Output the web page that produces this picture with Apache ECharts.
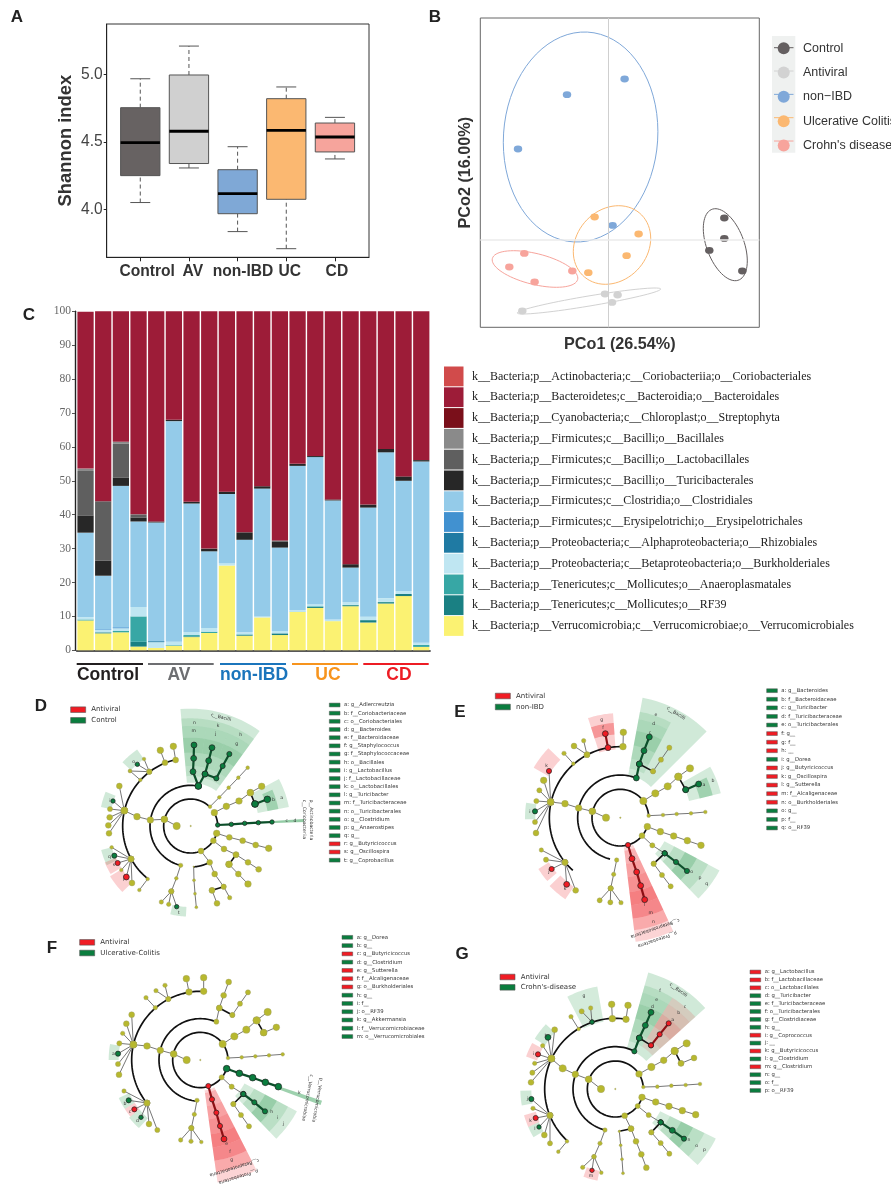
<!DOCTYPE html>
<html>
<head>
<meta charset="utf-8">
<title>Microbiome figure</title>
<script src="https://cdn.jsdelivr.net/npm/echarts@6/dist/echarts.min.js"></script>
<style>
html, body { margin: 0; padding: 0; background: #fff; }
#main { width: 891px; height: 1184px; }
</style>
</head>
<body>
<div id="main"></div>
<script>
// panel A - Shannon index
var boxNames = ['Control', 'AV', 'non-IBD', 'UC', 'CD'];
var boxLow = [4.05, 4.307, 3.834, 3.707, 4.374];
var boxQ1 = [4.25, 4.34, 3.967, 4.074, 4.426];
var boxMedian = [4.495, 4.58, 4.116, 4.587, 4.537];
var boxQ3 = [4.755, 4.998, 4.294, 4.822, 4.641];
var boxHigh = [4.97, 5.213, 4.465, 4.909, 4.683];
var boxColors = ['#676262', '#d0d0d0', '#7fa8d6', '#fbb871', '#f6a49c'];
var shannonTicks = [4, 4.5, 5];

// panel B - PCoA
var pcoaNames = ['Control', 'Antiviral', 'non\u2212IBD', 'Ulcerative Colitis', "Crohn's disease"];
var pcoaControl = [[0.116, 0.0217], [0.116, 0.0013], [0.101, -0.0107], [0.134, -0.0313]];
var pcoaAntiviral = [[-0.0033, -0.0543], [0.0093, -0.0553], [0.0037, -0.0627], [-0.086, -0.0713]];
var pcoaNonIbd = [[0.0163, 0.1607], [-0.0413, 0.145], [-0.0903, 0.0907], [0.0043, 0.0143]];
var pcoaUc = [[-0.0137, 0.0227], [0.0303, 0.0057], [0.0183, -0.016], [-0.02, -0.033]];
var pcoaCd = [[-0.084, -0.0137], [-0.099, -0.0273], [-0.0737, -0.0423], [-0.036, -0.0313]];
// centre x, centre y, half width, half height, correlation
var ellControl = [0.117, -0.005, 0.022, 0.036, -0.45];
var ellAntiviral = [-0.0193, -0.0613, 0.0717, 0.013, 0.92];
var ellNonIbd = [-0.0277, 0.1027, 0.0773, 0.105, 0.05];
var ellUc = [0.0037, -0.0053, 0.0387, 0.0393, 0.17];
var ellCd = [-0.0733, -0.0293, 0.0428, 0.0183, -0.5];

// panel C - stacked composition, bottom to top
var sampleIds = ['1', '2', '3', '4', '5', '6', '7', '8', '9', '10', '11', '12', '13', '14', '15', '16', '17', '18', '19', '20'];
var taxVerruco = [8.8, 5, 5.3, 1.1, 0.7, 1.3, 3.9, 5.1, 25, 4.3, 9.7, 4.5, 11.3, 12.5, 8.6, 13, 8.2, 13.8, 16, 1];
var taxRf39 = [0, 0.3, 0, 1.4, 0, 0, 0.2, 0, 0, 0.2, 0, 0.5, 0, 0.3, 0, 0.3, 0.7, 0.4, 0.6, 0];
var taxAnaero = [0.3, 0, 0.4, 7.5, 0, 0.2, 0.4, 0.4, 0, 0.2, 0, 0, 0.1, 0.2, 0, 0.1, 0, 0.1, 0, 0.6];
var taxBurk = [0.7, 0.7, 0.8, 2.8, 1.7, 1, 0.9, 1.1, 0.7, 0.6, 0.3, 0.7, 0.4, 0.6, 0.5, 0.8, 1, 1.1, 0.9, 0.6];
var taxRhizo = [0, 0, 0, 0, 0.3, 0, 0, 0, 0, 0, 0, 0, 0, 0, 0, 0, 0, 0, 0, 0];
var taxErysip = [0, 0.2, 0.3, 0, 0, 0, 0, 0, 0, 0, 0, 0, 0, 0, 0, 0, 0, 0, 0, 0];
var taxClost = [24.9, 15.8, 41.7, 25.2, 35, 65.1, 37.9, 22.6, 20.4, 27.3, 37.7, 24.6, 42.6, 43.4, 35.1, 10.2, 32.2, 43, 32.5, 53.5];
var taxTurici = [5.1, 4.5, 2.5, 1.2, 0.3, 0.4, 0.5, 0.8, 0.7, 2.2, 0.7, 1.7, 0.6, 0.3, 0.3, 1, 0.9, 1, 1.3, 0.4];
var taxLacto = [13.1, 17.5, 9.9, 0.9, 0, 0, 0, 0, 0, 0, 0, 0.4, 0, 0, 0, 0, 0, 0, 0, 0];
var taxBacill = [0.7, 0, 0.6, 0, 0, 0, 0, 0, 0, 0, 0, 0, 0, 0, 0, 0, 0, 0, 0, 0];
var taxStrepto = [0, 0, 0, 0, 0, 0, 0, 0, 0, 0, 0, 0, 0, 0, 0, 0, 0, 0, 0, 0];
var taxBactero = [46.3, 56, 38.5, 59.9, 62, 32, 56.2, 70, 53.2, 65.2, 51.6, 67.6, 45, 42.7, 55.5, 74.6, 57, 40.6, 48.7, 43.9];
var taxCorio = [0, 0, 0, 0, 0, 0, 0, 0, 0, 0, 0, 0, 0, 0, 0, 0, 0, 0, 0, 0];
var yTicksC = 10;
var groupNames = ['Control', 'AV', 'non-IBD', 'UC', 'CD'];
var groupColors = ['#231f20', '#6d6e71', '#1b75bc', '#f7941d', '#ed1c24'];
var taxNames = [
    'k__Bacteria;p__Actinobacteria;c__Coriobacteriia;o__Coriobacteriales',
    'k__Bacteria;p__Bacteroidetes;c__Bacteroidia;o__Bacteroidales',
    'k__Bacteria;p__Cyanobacteria;c__Chloroplast;o__Streptophyta',
    'k__Bacteria;p__Firmicutes;c__Bacilli;o__Bacillales',
    'k__Bacteria;p__Firmicutes;c__Bacilli;o__Lactobacillales',
    'k__Bacteria;p__Firmicutes;c__Bacilli;o__Turicibacterales',
    'k__Bacteria;p__Firmicutes;c__Clostridia;o__Clostridiales',
    'k__Bacteria;p__Firmicutes;c__Erysipelotrichi;o__Erysipelotrichales',
    'k__Bacteria;p__Proteobacteria;c__Alphaproteobacteria;o__Rhizobiales',
    'k__Bacteria;p__Proteobacteria;c__Betaproteobacteria;o__Burkholderiales',
    'k__Bacteria;p__Tenericutes;c__Mollicutes;o__Anaeroplasmatales',
    'k__Bacteria;p__Tenericutes;c__Mollicutes;o__RF39',
    'k__Bacteria;p__Verrucomicrobia;c__Verrucomicrobiae;o__Verrucomicrobiales'
];
var taxColors = ['#d14b4b', '#9d1c38', '#7a0f1a', '#8a8a8a', '#5f5f5f', '#272727', '#94cbe9', '#4191d0', '#1f7aa3', '#bfe6f2', '#37a7a5', '#1a8083', '#fbf272'];

// panels D-G - cladogram keys
var dKeys = ['a: g__Adlercreutzia', 'b: f__Coriobacteriaceae', 'c: o__Coriobacteriales', 'd: g__Bacteroides', 'e: f__Bacteroidaceae', 'f: g__Staphylococcus', 'g: f__Staphylococcaceae', 'h: o__Bacillales', 'i: g__Lactobacillus', 'j: f__Lactobacillaceae', 'k: o__Lactobacillales', 'l: g__Turicibacter', 'm: f__Turicibacteraceae', 'n: o__Turicibacterales', 'o: g__Clostridium', 'p: g__Anaerostipes', 'q: g__', 'r: g__Butyricicoccus', 's: g__Oscillospira', 't: g__Coprobacillus'];
var dKeyCls = 'gggggggggggggggggrrg';
var eKeys = ['a: g__Bacteroides', 'b: f__Bacteroidaceae', 'c: g__Turicibacter', 'd: f__Turicibacteraceae', 'e: o__Turicibacterales', 'f: g__', 'g: f__', 'h: __', 'i: g__Dorea', 'j: g__Butyricicoccus', 'k: g__Oscillospira', 'l: g__Sutterella', 'm: f__Alcaligenaceae', 'n: o__Burkholderiales', 'o: g__', 'p: f__', 'q: o__RF39'];
var eKeyCls = 'gggggrrrgrrrrrggg';
var fKeys = ['a: g__Dorea', 'b: g__', 'c: g__Butyricicoccus', 'd: g__Clostridium', 'e: g__Sutterella', 'f: f__Alcaligenaceae', 'g: o__Burkholderiales', 'h: g__', 'i: f__', 'j: o__RF39', 'k: g__Akkermansia', 'l: f__Verrucomicrobiaceae', 'm: o__Verrucomicrobiales'];
var fKeyCls = 'ggrgrrrgggggg';
var gKeys = ['a: g__Lactobacillus', 'b: f__Lactobacillaceae', 'c: o__Lactobacillales', 'd: g__Turicibacter', 'e: f__Turicibacteraceae', 'f: o__Turicibacterales', 'g: f__Clostridiaceae', 'h: g__', 'i: g__Coprococcus', 'j: __', 'k: g__Butyricicoccus', 'l: g__Clostridium', 'm: g__Clostridium', 'n: g__', 'o: f__', 'p: o__RF39'];
var gKeyCls = 'rrrggggg' + 'rgrgrggg';

// cladogram trees in crop units (3 units = 1 pixel)
// each chain: edge class, then nodes [x, y, radius, node class]
var dChains = [
    ['g', [505, 288, 9, 'g'], [489, 245, 8, 'g'], [491, 205, 8, 'g'], [492, 165, 8, 'g']],
    ['g', [505, 288, 9, 'g'], [525, 252, 8, 'g'], [536, 212, 8, 'g'], [546, 173, 8, 'g']],
    ['g', [525, 252, 8, 'g'], [559, 265, 7, 'g'], [578, 228, 7, 'g'], [598, 192, 7, 'g']],
    ['o', [540, 350, 5, 'o'], [568, 322, 5, 'o'], [596, 293, 5, 'o'], [625, 263, 5, 'o'], [653, 233, 5, 'o']],
    ['o', [553, 368, 9, 'o'], [589, 349, 9, 'o'], [627, 333, 9, 'o'], [661, 308, 9, 'o'], [695, 289, 9, 'o']],
    ['k', [661, 308, 9, 'o'], [675, 342, 9, 'g']],
    ['g', [675, 342, 9, 'g'], [712, 328, 9, 'g']],
    ['g', [563, 405, 6, 'g'], [604, 403, 6, 'g'], [644, 400, 6, 'g'], [685, 398, 6, 'g'], [726, 396, 6, 'g']],
    ['o', [560, 430, 9, 'o'], [598, 442, 8, 'o'], [638, 452, 8, 'o'], [677, 465, 8, 'o'], [716, 475, 9, 'o']],
    ['o', [550, 452, 8, 'o'], [582, 477, 8, 'o'], [618, 494, 8, 'o'], [654, 517, 8, 'o'], [686, 538, 8, 'o']],
    ['o', [513, 483, 8, 'o'], [539, 517, 8, 'o'], [554, 552, 8, 'o'], [581, 590, 7, 'o'], [599, 623, 6, 'o']],
    ['k', [581, 590, 7, 'o'], [546, 601, 8, 'o']],
    ['o', [546, 601, 8, 'o'], [561, 640, 8, 'o']],
    ['k', [618, 494, 8, 'o'], [597, 523, 9, 'o']],
    ['o', [597, 523, 9, 'o'], [625, 552, 8, 'o'], [654, 582, 9, 'o']],
    ['o', [452, 526, 6, 'o'], [439, 565, 5, 'o'], [424, 604, 7, 'o'], [394, 636, 6, 'o']],
    ['o', [424, 604, 7, 'o'], [416, 643, 6, 'o']],
    ['o', [424, 604, 7, 'o'], [440, 650, 6, 'g']],
    ['o', [491, 530, 2, 'o'], [492, 571, 4, 'o'], [495, 611, 4, 'o'], [499, 652, 4, 'o']],
    ['o', [303, 507, 8, 'o'], [245, 472, 5, 'o']],
    ['o', [303, 507, 8, 'o'], [253, 497, 7, 'g']],
    ['o', [303, 507, 8, 'o'], [263, 519, 7, 'r']],
    ['o', [303, 507, 8, 'o'], [274, 540, 5, 'o']],
    ['o', [303, 507, 8, 'o'], [289, 561, 8, 'r']],
    ['o', [303, 507, 8, 'o'], [306, 579, 8, 'o']],
    ['o', [353, 567, 5, 'o'], [328, 600, 5, 'o']],
    ['o', [283, 362, 9, 'o'], [268, 288, 8, 'o']],
    ['o', [283, 362, 9, 'o'], [249, 333, 6, 'g']],
    ['o', [283, 362, 9, 'o'], [240, 357, 7, 'o']],
    ['o', [283, 362, 9, 'o'], [239, 382, 8, 'o']],
    ['o', [283, 362, 9, 'o'], [235, 406, 8, 'o']],
    ['o', [283, 362, 9, 'o'], [237, 430, 8, 'o']],
    ['o', [358, 245, 7, 'o'], [342, 207, 5, 'o']],
    ['o', [358, 245, 7, 'o'], [322, 223, 6, 'g']],
    ['o', [358, 245, 7, 'o'], [300, 243, 5, 'o']],
    ['o', [331, 270, 5, 'o'], [300, 243, 5, 'o']],
    ['o', [405, 218, 8, 'o'], [391, 181, 9, 'o']],
    ['o', [437, 210, 8, 'o'], [430, 169, 9, 'o']],
    ['o', [403, 388, 9, 'o'], [361, 390, 9, 'o'], [321, 380, 9, 'o'], [283, 362, 9, 'o']],
    ['o', [403, 388, 9, 'o'], [440, 408, 10, 'o']]
];
var eChains = [
    ['g', [559, 294, 8, 'g'], [568, 252, 8, 'g'], [582, 212, 8, 'g'], [598, 171, 8, 'g']],
    ['k', [568, 252, 8, 'g'], [609, 274, 7, 'o']],
    ['o', [609, 274, 7, 'o'], [633, 239, 7, 'o'], [658, 203, 7, 'o']],
    ['o', [580, 363, 10, 'o'], [616, 340, 10, 'o'], [653, 319, 10, 'o'], [685, 290, 10, 'o'], [720, 265, 10, 'o']],
    ['k', [685, 290, 10, 'o'], [707, 329, 8, 'g']],
    ['g', [707, 329, 8, 'g'], [746, 312, 8, 'g']],
    ['o', [596, 407, 5, 'o'], [639, 405, 5, 'o'], [680, 402, 5, 'o'], [723, 400, 5, 'o'], [766, 396, 5, 'o']],
    ['o', [592, 440, 9, 'o'], [631, 455, 9, 'o'], [671, 468, 9, 'o'], [712, 482, 9, 'o'], [753, 496, 9, 'o']],
    ['o', [576, 467, 8, 'o'], [607, 496, 7, 'o'], [644, 520, 7, 'g']],
    ['g', [644, 520, 7, 'g'], [678, 546, 7, 'g'], [711, 573, 7, 'g']],
    ['k', [644, 520, 7, 'g'], [611, 551, 7, 'o']],
    ['o', [611, 551, 7, 'o'], [636, 585, 7, 'o'], [662, 619, 7, 'o']],
    ['r', [534, 495, 7, 'r'], [546, 536, 8, 'r'], [560, 576, 8, 'r'], [572, 617, 8, 'r'], [584, 659, 8, 'r']],
    ['o', [500, 540, 6, 'o'], [491, 583, 6, 'o'], [482, 625, 7, 'o'], [449, 661, 7, 'o']],
    ['o', [482, 625, 7, 'o'], [481, 667, 7, 'o']],
    ['o', [482, 625, 7, 'o'], [513, 668, 6, 'o']],
    ['o', [345, 547, 8, 'o'], [274, 510, 6, 'o']],
    ['o', [345, 547, 8, 'o'], [288, 539, 7, 'o']],
    ['o', [345, 547, 8, 'o'], [305, 567, 7, 'r']],
    ['o', [345, 547, 8, 'o'], [350, 613, 8, 'r']],
    ['o', [345, 547, 8, 'o'], [377, 631, 8, 'o']],
    ['o', [302, 366, 9, 'o'], [281, 301, 9, 'o']],
    ['o', [302, 366, 9, 'o'], [297, 273, 7, 'r']],
    ['o', [302, 366, 9, 'o'], [268, 331, 7, 'o']],
    ['o', [302, 366, 9, 'o'], [259, 363, 7, 'o']],
    ['o', [302, 366, 9, 'o'], [255, 394, 7, 'g']],
    ['o', [302, 366, 9, 'o'], [255, 426, 7, 'o']],
    ['o', [302, 366, 9, 'o'], [258, 459, 8, 'o']],
    ['o', [370, 251, 5, 'o'], [342, 220, 6, 'o']],
    ['o', [411, 224, 8, 'o'], [372, 198, 8, 'o']],
    ['o', [411, 224, 8, 'o'], [401, 182, 6, 'o']],
    ['r', [474, 203, 8, 'r'], [466, 161, 8, 'r']],
    ['o', [519, 200, 9, 'o'], [520, 157, 9, 'o']],
    ['o', [427, 394, 9, 'o'], [386, 384, 9, 'o'], [345, 371, 9, 'o'], [302, 366, 9, 'o']],
    ['o', [427, 394, 9, 'o'], [468, 413, 10, 'o']]
];
var fChains = [
    ['o', [559, 275, 7, 'o'], [568, 234, 8, 'o'], [581, 196, 8, 'o'], [596, 156, 8, 'o']],
    ['k', [568, 234, 8, 'o'], [607, 255, 7, 'o']],
    ['o', [607, 255, 7, 'o'], [630, 221, 7, 'o'], [654, 187, 7, 'o']],
    ['o', [578, 342, 10, 'o'], [613, 319, 10, 'o'], [649, 299, 10, 'o'], [680, 271, 10, 'o'], [713, 246, 10, 'o']],
    ['k', [680, 271, 10, 'o'], [701, 308, 9, 'o']],
    ['o', [701, 308, 9, 'o'], [739, 292, 9, 'o']],
    ['o', [594, 384, 5, 'o'], [635, 382, 5, 'o'], [676, 379, 5, 'o'], [717, 376, 5, 'o'], [758, 373, 5, 'o']],
    ['g', [590, 416, 9, 'g'], [628, 430, 9, 'g'], [668, 443, 9, 'g'], [706, 457, 9, 'g'], [745, 470, 9, 'g']],
    ['o', [575, 442, 7, 'o'], [605, 470, 7, 'o'], [640, 492, 7, 'g']],
    ['g', [640, 492, 7, 'g'], [673, 517, 7, 'g'], [705, 544, 7, 'g']],
    ['k', [640, 492, 7, 'g'], [610, 522, 7, 'o']],
    ['o', [610, 522, 7, 'o'], [633, 555, 7, 'o'], [657, 589, 7, 'o']],
    ['r', [535, 468, 7, 'r'], [546, 508, 7, 'r'], [559, 548, 7, 'r'], [570, 588, 7, 'r'], [582, 627, 8, 'r']],
    ['o', [501, 511, 6, 'o'], [493, 553, 6, 'o'], [484, 594, 7, 'o'], [452, 630, 6, 'o']],
    ['o', [484, 594, 7, 'o'], [483, 634, 6, 'o']],
    ['o', [484, 594, 7, 'o'], [514, 636, 5, 'o']],
    ['o', [351, 519, 8, 'o'], [282, 483, 6, 'o']],
    ['o', [351, 519, 8, 'o'], [296, 511, 7, 'g']],
    ['o', [351, 519, 8, 'o'], [313, 538, 7, 'r']],
    ['o', [351, 519, 8, 'o'], [333, 562, 6, 'g']],
    ['o', [351, 519, 8, 'o'], [357, 582, 8, 'o']],
    ['o', [351, 519, 8, 'o'], [382, 600, 7, 'o']],
    ['o', [310, 344, 9, 'o'], [289, 281, 8, 'o']],
    ['o', [310, 344, 9, 'o'], [305, 254, 8, 'o']],
    ['o', [310, 344, 9, 'o'], [278, 310, 6, 'o']],
    ['o', [310, 344, 9, 'o'], [268, 340, 7, 'o']],
    ['o', [310, 344, 9, 'o'], [264, 371, 7, 'g']],
    ['o', [310, 344, 9, 'o'], [264, 402, 7, 'o']],
    ['o', [310, 344, 9, 'o'], [267, 434, 8, 'o']],
    ['o', [376, 233, 6, 'o'], [348, 203, 6, 'o']],
    ['o', [415, 207, 7, 'o'], [378, 182, 6, 'o']],
    ['o', [415, 207, 7, 'o'], [405, 166, 6, 'o']],
    ['o', [477, 186, 9, 'o'], [469, 146, 9, 'o']],
    ['o', [521, 184, 9, 'o'], [521, 143, 9, 'o']],
    ['o', [431, 372, 9, 'o'], [391, 361, 9, 'o'], [351, 348, 9, 'o'], [310, 344, 9, 'o']],
    ['o', [431, 372, 9, 'o'], [470, 390, 10, 'o']]
];
var gChains = [
    ['g', [553, 334, 7, 'g'], [568, 294, 8, 'g'], [586, 256, 8, 'g'], [603, 217, 8, 'g']],
    ['k', [568, 294, 8, 'g'], [603, 316, 7, 'r']],
    ['r', [603, 316, 7, 'r'], [629, 283, 7, 'r'], [656, 250, 7, 'r']],
    ['o', [567, 402, 9, 'o'], [604, 381, 10, 'o'], [641, 361, 9, 'o'], [674, 333, 10, 'o'], [710, 310, 10, 'o']],
    ['k', [674, 333, 10, 'o'], [693, 370, 8, 'o']],
    ['o', [693, 370, 8, 'o'], [732, 354, 8, 'o']],
    ['o', [580, 441, 5, 'o'], [622, 440, 5, 'o'], [664, 437, 5, 'o'], [707, 435, 5, 'o'], [750, 432, 5, 'o']],
    ['o', [576, 472, 9, 'o'], [617, 486, 9, 'o'], [657, 499, 9, 'o'], [697, 512, 9, 'o'], [737, 524, 9, 'o']],
    ['o', [563, 498, 7, 'o'], [596, 525, 7, 'o'], [632, 547, 7, 'g']],
    ['g', [632, 547, 7, 'g'], [667, 571, 8, 'g'], [702, 596, 7, 'g']],
    ['k', [632, 547, 7, 'g'], [604, 577, 7, 'o']],
    ['o', [604, 577, 7, 'o'], [632, 609, 7, 'o'], [658, 641, 7, 'o']],
    ['o', [524, 527, 8, 'o'], [543, 566, 8, 'o'], [558, 604, 8, 'o'], [574, 643, 8, 'o'], [589, 683, 8, 'o']],
    ['o', [465, 570, 6, 'o'], [450, 610, 6, 'o'], [432, 650, 6, 'o'], [398, 682, 6, 'o']],
    ['o', [432, 650, 6, 'o'], [426, 691, 6, 'r']],
    ['o', [432, 650, 6, 'o'], [454, 698, 5, 'o']],
    ['k', [543, 566, 8, 'o'], [508, 574, 3, 'o']],
    ['o', [508, 574, 3, 'o'], [512, 616, 4, 'o'], [516, 658, 4, 'o'], [519, 700, 4, 'o']],
    ['o', [300, 526, 8, 'o'], [249, 505, 6, 'o']],
    ['o', [300, 526, 8, 'o'], [244, 477, 7, 'g']],
    ['o', [300, 526, 8, 'o'], [257, 534, 7, 'r']],
    ['o', [300, 526, 8, 'o'], [267, 561, 6, 'g']],
    ['o', [300, 526, 8, 'o'], [283, 585, 8, 'o']],
    ['o', [300, 526, 8, 'o'], [300, 610, 7, 'o']],
    ['o', [351, 604, 5, 'o'], [325, 635, 5, 'o']],
    ['o', [304, 356, 9, 'o'], [314, 269, 8, 'o']],
    ['o', [304, 356, 9, 'o'], [294, 292, 8, 'g']],
    ['o', [304, 356, 9, 'o'], [278, 317, 6, 'o']],
    ['o', [304, 356, 9, 'o'], [264, 343, 7, 'r']],
    ['o', [304, 356, 9, 'o'], [254, 370, 6, 'o']],
    ['o', [304, 356, 9, 'o'], [247, 398, 7, 'o']],
    ['o', [304, 356, 9, 'o'], [243, 427, 8, 'o']],
    ['o', [386, 267, 5, 'o'], [363, 230, 6, 'o']],
    ['o', [426, 246, 6, 'g'], [395, 214, 7, 'o']],
    ['o', [426, 246, 6, 'g'], [422, 204, 6, 'o']],
    ['o', [487, 236, 9, 'o'], [485, 193, 9, 'o']],
    ['o', [528, 238, 9, 'o'], [534, 196, 9, 'o']],
    ['o', [416, 418, 9, 'o'], [376, 403, 9, 'o'], [338, 385, 10, 'o'], [304, 356, 9, 'o']],
    ['o', [416, 418, 9, 'o'], [453, 447, 10, 'o']]
];

// rings: radius, start angle, end angle
var dArcs = [[81, -67, -16], [81, 2, 29], [81, 45, 292], [122, 79, 256], [123, -86, -62], [204, 102, 231]];
var eArcs = [[85, -74, -18], [85, 5, 36], [85, 36, 286], [128, 68, 256], [213, 88, 228]];
var fArcs = [[83, -73, -18], [83, 4, 287], [124, 67, 265], [206, 87, 219]];
var gArcs = [[84, -71, -17], [84, 4, 289], [127, 63, 256], [212, 81, 227]];

// sectors: inner radius, outer radius, start angle, end angle, class, opacity
var bandsBig = [[150, 180, 0.12], [180, 220, 0.2], [220, 265, 0.32], [265, 300, 0.22], [300, 323, 0.15]];
var bandsRed = [[100, 140, 0.2], [140, 180, 0.3], [180, 225, 0.4], [225, 265, 0.5], [265, 305, 0.45], [305, 340, 0.25]];
var bandsLow = [[183, 220, 0.15], [220, 260, 0.35], [260, 298, 0.15]];
var dWedges = [
    [130, 352, 54, 95, 'g', 0.22], [205, 300, 11, 28, 'g', 0.2], [235, 268, 11, 24, 'g', 0.3],
    [165, 340, 2, 3.5, 'g', 0.5], [245, 280, 125, 137, 'g', 0.22], [243, 275, 158, 168, 'g', 0.22],
    [245, 278, -165, -155, 'g', 0.22], [243, 280, -157, -149, 'r', 0.22], [243, 285, -148, -136, 'r', 0.22],
    [243, 272, -103, -93, 'g', 0.22]
];
var dClades = [[81, 95, 'g', bandsBig], [68, 81, 'g', bandsBig], [54, 68, 'g', bandsBig]];
var eWedges = [
    [130, 366, 45, 79.5, 'g', 0.22], [150, 337, -46, -28, 'g', 0.2], [90, 375, -83, -65, 'r', 0.2],
    [205, 314, 94, 108, 'r', 0.22], [250, 285, 94, 108, 'r', 0.35], [212, 310, 13.6, 29.6, 'g', 0.2],
    [245, 285, 13.6, 25, 'g', 0.3], [250, 300, 136, 150, 'r', 0.22], [255, 286, 171, 181, 'g', 0.22],
    [253, 290, -148, -139, 'r', 0.22], [250, 295, -136, -124, 'r', 0.22]
];
var eClades = [[62, 79.5, 'g', bandsBig], [-46, -28, 'g', bandsLow], [-83, -65, 'r', bandsRed]];
var fWedges = [
    [92, 371, -82, -63, 'r', 0.2], [150, 328, -46, -28, 'g', 0.2], [250, 385, -20.5, -18.5, 'g', 0.45],
    [245, 275, 170, 180, 'g', 0.22], [235, 270, -155, -147, 'g', 0.22], [235, 270, -147, -141, 'r', 0.22],
    [235, 275, -141, -132, 'g', 0.22]
];
var fClades = [[-82, -63, 'r', bandsRed], [-46, -28, 'g', bandsLow]];
var gWedges = [
    [125, 363, 42, 74.2, 'g', 0.22], [150, 336, -42.7, -26.3, 'g', 0.2], [205, 312, 100, 117.5, 'g', 0.2],
    [248, 285, 137, 148, 'g', 0.22], [250, 285, 151, 160, 'r', 0.22], [252, 285, -179, -170, 'g', 0.22],
    [248, 285, -164, -156.5, 'r', 0.22], [250, 285, -156.5, -149.5, 'g', 0.22], [250, 280, -110, -101, 'r', 0.22]
];
var gClades = [[58, 74.2, 'g', bandsBig], [42, 58, 'r', bandsBig], [-42.7, -26.3, 'g', bandsLow]];

// sector letters and taxon names: text, x, y, rotation
var dNotes = [['c__Bacilli', 573, 82, -14], ['n', 493, 97, 0], ['m', 491, 123, 0], ['k', 564, 107, 0], ['j', 557, 132, 0], ['h', 632, 134, 0], ['g', 620, 160, 0], ['a', 755, 322, 0], ['b', 730, 328, 0], ['o', 311, 214, 0], ['p__Actinobacteria', 845, 390, -90], ['c__Coriobacteriia', 822, 388, -90], ['c', 770, 393, 0], ['d', 795, 392, 0], ['i', 240, 332, 0], ['s', 252, 524, 0], ['r', 282, 570, 0], ['q', 238, 500, 0], ['t', 447, 667, 0]];
var eNotes = [['c__Bacilli', 678, 100, -32], ['e', 618, 105, 0], ['d', 611, 130, 0], ['c', 600, 158, 0], ['g', 455, 118, 0], ['f', 459, 143, 0], ['a', 762, 314, 0], ['b', 789, 302, 0], ['o', 725, 574, 0], ['p', 750, 592, 0], ['q', 770, 610, 0], ['l', 583, 675, 0], ['m', 602, 697, 0], ['n', 610, 725, 0], ['c__Betaproteobacteria', 615, 745, -161], ['p__Proteobacteria', 622, 778, -161], ['k', 290, 256, 0], ['i', 240, 394, 0], ['j', 297, 575, 0], ['k', 345, 625, 0]];
var fNotes = [['g', 605, 688, 0], ['f', 600, 665, 0], ['e', 590, 640, 0], ['h', 725, 545, 0], ['i', 742, 563, 0], ['j', 760, 582, 0], ['c__Betaproteobacteria', 613, 713, -163], ['p__Proteobacteria', 625, 740, -163], ['c__Verrucomicrobiae', 832, 503, -100], ['p__Verrucomicrobia', 862, 510, -100], ['a', 250, 370, 0], ['b', 285, 522, 0], ['c', 300, 546, 0], ['d', 322, 571, 0], ['k', 808, 488, 0]];
var gNotes = [['c__Bacilli', 685, 150, -35], ['f', 630, 152, 0], ['e', 620, 178, 0], ['d', 607, 200, 0], ['c', 705, 200, 0], ['b', 686, 218, 0], ['a', 668, 240, 0], ['g', 402, 167, 0], ['o', 740, 617, 0], ['p', 763, 630, 0], ['n', 717, 600, 0], ['m', 423, 707, 0], ['h', 288, 288, 0], ['i', 250, 340, 0], ['j', 232, 477, 0], ['k', 242, 542, 0], ['l', 255, 566, 0]];

var panelLetters = [['A', 17, 17], ['B', 435, 17], ['C', 29, 315], ['D', 41, 706], ['E', 460, 712], ['F', 52, 948], ['G', 462, 954]];

var LEFSE_COLORS = { g: '#0a7d3e', r: '#f01c24', o: '#b7b82e' };
var WEDGE_COLORS = { g: '#27994c', r: '#ee2a2e' };
var SANS = '"Liberation Sans", Arial, sans-serif';
var SERIF = '"Liberation Serif", "Times New Roman", serif';
var DEJAVU = '"DejaVu Sans", sans-serif';

var clados = [
    { crop: [30, 690, 400, 240], centre: [482, 408], chains: dChains, arcs: dArcs, wedges: dWedges, clades: dClades, notes: dNotes,
      keys: dKeys, keyCls: dKeyCls, keyX: 898, keyY: 45, keyStep: 24.5, swX: 122, swY: 59, swStep: 32, second: 'Control' },
    { crop: [450, 680, 441, 270], centre: [511, 413], chains: eChains, arcs: eArcs, wedges: eWedges, clades: eClades, notes: eNotes,
      keys: eKeys, keyCls: eKeyCls, keyX: 950, keyY: 32, keyStep: 25.75, swX: 136, swY: 48, swStep: 33, second: 'non-IBD' },
    { crop: [30, 930, 410, 254], centre: [511, 390], chains: fChains, arcs: fArcs, wedges: fWedges, clades: fClades, notes: fNotes,
      keys: fKeys, keyCls: fKeyCls, keyX: 936, keyY: 22, keyStep: 24.8, swX: 149, swY: 37, swStep: 32, second: 'Ulcerative-Colitis' },
    { crop: [450, 940, 441, 244], centre: [496, 447], chains: gChains, arcs: gArcs, wedges: gWedges, clades: gClades, notes: gNotes,
      keys: gKeys, keyCls: gKeyCls, keyX: 900, keyY: 96, keyStep: 23.7, swX: 150, swY: 111, swStep: 31, second: "Crohn's-disease" }
];

function textEl(str, x, y, font, fill, align, rotDeg) {
    return {
        type: 'text', x: x, y: y, rotation: (rotDeg || 0) * Math.PI / 180, silent: true, z: 20,
        style: { text: str, font: font, fill: fill, align: align || 'left', textAlign: align || 'left', verticalAlign: 'middle', textVerticalAlign: 'middle' }
    };
}

function rad(d) { return d * Math.PI / 180; }

var grids = [], xAxes = [], yAxes = [], series = [], graphics = [];

// A
grids.push({ left: 106.7, top: 24, width: 262.3, height: 233.3, show: true, borderColor: '#333', borderWidth: 1 });
xAxes.push({
    type: 'value', gridIndex: 0, min: 0.31, max: 5.7, splitLine: { show: false },
    axisLine: { lineStyle: { color: '#222' } },
    axisTick: { customValues: [1, 2, 3, 4, 5], length: 4, lineStyle: { color: '#222' } },
    axisLabel: {
        customValues: [1.14, 2.08, 3.11, 4.07, 5.04], margin: 6,
        color: '#333', fontFamily: SANS, fontWeight: 'bold', fontSize: 15.6,
        formatter: function (v) { return boxNames[Math.round(v) - 1]; }
    }
});
yAxes.push({
    type: 'value', gridIndex: 0, min: 3.643, max: 5.377, splitLine: { show: false },
    name: 'Shannon index', nameLocation: 'middle', nameGap: 32,
    nameTextStyle: { fontFamily: SANS, fontWeight: 'bold', fontSize: 18.4, color: '#333' },
    axisLine: { lineStyle: { color: '#222' } },
    axisTick: { customValues: shannonTicks, length: 3, lineStyle: { color: '#222' } },
    axisLabel: { customValues: shannonTicks, margin: 4, fontFamily: SANS, fontSize: 15.6, color: '#444', formatter: function (v) { return v.toFixed(1); } }
});
series.push({
    type: 'custom', name: 'Shannon', xAxisIndex: 0, yAxisIndex: 0, silent: true,
    encode: { x: 0, y: [1, 2, 3, 4, 5] },
    data: boxNames.map(function (n, i) { return [i + 1, boxLow[i], boxQ1[i], boxMedian[i], boxQ3[i], boxHigh[i]]; }),
    renderItem: function (params, api) {
        var x = api.value(0);
        function pt(dx, v) { return api.coord([x + dx, v]); }
        var lo = api.value(1), q1 = api.value(2), med = api.value(3), q3 = api.value(4), hi = api.value(5);
        var a = pt(-0.404, q3), b = pt(0.404, q1);
        var wire = { stroke: '#555', lineWidth: 1, lineDash: [4, 3] };
        var edge = { stroke: '#555', lineWidth: 1 };
        function seg(p, q, st) { return { type: 'line', shape: { x1: p[0], y1: p[1], x2: q[0], y2: q[1] }, style: st }; }
        return {
            type: 'group', children: [
                seg(pt(0, lo), pt(0, q1), wire), seg(pt(0, q3), pt(0, hi), wire),
                seg(pt(-0.205, lo), pt(0.205, lo), edge), seg(pt(-0.205, hi), pt(0.205, hi), edge),
                { type: 'rect', shape: { x: a[0], y: a[1], width: b[0] - a[0], height: b[1] - a[1] }, style: { fill: boxColors[params.dataIndex], stroke: '#555', lineWidth: 1 } },
                seg(pt(-0.404, med), pt(0.404, med), { stroke: '#000', lineWidth: 2.8 })
            ]
        };
    }
});

// B
grids.push({ left: 480.3, top: 18, width: 279, height: 309.3, show: true, borderColor: '#666', borderWidth: 1 });
xAxes.push({
    type: 'value', gridIndex: 1, min: -0.128, max: 0.151, splitLine: { show: false }, axisLine: { show: false }, axisTick: { show: false }, axisLabel: { show: false },
    name: 'PCo1 (26.54%)', nameLocation: 'middle', nameGap: 9, nameTextStyle: { fontFamily: SANS, fontWeight: 'bold', fontSize: 16.2, color: '#333' }
});
yAxes.push({
    type: 'value', gridIndex: 1, min: -0.0876, max: 0.2217, splitLine: { show: false }, axisLine: { show: false }, axisTick: { show: false }, axisLabel: { show: false },
    name: 'PCo2 (16.00%)', nameLocation: 'middle', nameGap: 7, nameTextStyle: { fontFamily: SANS, fontWeight: 'bold', fontSize: 16.2, color: '#333' }
});
var pcoaColors = ['#645f60', '#d2d2d2', '#7fa8d9', '#fbb871', '#f7a49c'];
var pcoaPoints = [pcoaControl, pcoaAntiviral, pcoaNonIbd, pcoaUc, pcoaCd];
var pcoaEllipses = [ellControl, ellAntiviral, ellNonIbd, ellUc, ellCd];
series.push({
    type: 'line', name: 'axes0', xAxisIndex: 1, yAxisIndex: 1, silent: true, data: [], symbol: 'none',
    markLine: {
        silent: true, symbol: 'none', label: { show: false }, animation: false,
        data: [
            { xAxis: 0, lineStyle: { color: '#cfcfcf', width: 1, type: 'solid' } },
            { yAxis: 0, lineStyle: { color: '#ebebeb', width: 1.6, type: 'solid' } }
        ]
    }
});
pcoaNames.forEach(function (name, g) {
    var e = pcoaEllipses[g];
    series.push({
        type: 'custom', name: name + ' ellipse', xAxisIndex: 1, yAxisIndex: 1, silent: true, z: 3,
        encode: { x: 0, y: 1 }, data: [[e[0], e[1]]],
        renderItem: function (params, api) {
            var pts = [];
            for (var i = 0; i <= 72; i++) {
                var t = i / 72 * 2 * Math.PI;
                pts.push(api.coord([e[0] + e[2] * Math.cos(t), e[1] + e[3] * (e[4] * Math.cos(t) + Math.sqrt(1 - e[4] * e[4]) * Math.sin(t))]));
            }
            return { type: 'polyline', shape: { points: pts }, style: { fill: 'none', stroke: pcoaColors[g], lineWidth: 1 } };
        }
    });
    series.push({
        type: 'scatter', name: name, xAxisIndex: 1, yAxisIndex: 1, silent: true, z: 4,
        symbol: 'circle', symbolSize: [8.5, 6.8], data: pcoaPoints[g], itemStyle: { color: pcoaColors[g], opacity: 1 }
    });
});

// C
grids.push({ left: 76.7, top: 311.3, width: 353.4, height: 339 });
xAxes.push({
    type: 'category', gridIndex: 2, data: sampleIds,
    axisLine: { lineStyle: { color: '#222', width: 1.6 } },
    axisTick: { alignWithLabel: true, length: 4, lineStyle: { color: '#222' } },
    axisLabel: { show: false }
});
yAxes.push({
    type: 'value', gridIndex: 2, min: 0, max: 100, interval: yTicksC, offset: 1.7, splitLine: { show: false },
    axisLine: { show: true, lineStyle: { color: '#222', width: 1.4 } },
    axisTick: { show: true, length: 3, lineStyle: { color: '#555' } },
    axisLabel: { fontFamily: SERIF, fontSize: 11.5, color: '#666', margin: 4 }
});
var stackOrder = [
    [12, taxVerruco], [11, taxRf39], [10, taxAnaero], [9, taxBurk], [8, taxRhizo], [7, taxErysip], [6, taxClost],
    [5, taxTurici], [4, taxLacto], [3, taxBacill], [2, taxStrepto], [1, taxBactero], [0, taxCorio]
];
stackOrder.forEach(function (row) {
    series.push({
        type: 'bar', name: taxNames[row[0]], xAxisIndex: 2, yAxisIndex: 2, stack: 'comp', barWidth: '92%', silent: true,
        data: row[1], itemStyle: { color: taxColors[row[0]] }
    });
});

// group underlines of C
var groupSpans = [[76.7, 143, 108], [148, 213.7, 179], [220, 286, 254], [292, 358, 328], [363.3, 428.7, 399]];
groupNames.forEach(function (n, i) {
    var s = groupSpans[i];
    graphics.push({ type: 'line', silent: true, shape: { x1: s[0], y1: 664, x2: s[1], y2: 664 }, style: { stroke: groupColors[i], lineWidth: 2 } });
    graphics.push(textEl(n, s[2], 675, 'bold 17.5px ' + SANS, groupColors[i], 'center'));
});

// grey strip and key lines behind the legend of B
graphics.push({ type: 'rect', silent: true, z: -1, shape: { x: 772, y: 36, width: 23.3, height: 116.7 }, style: { fill: '#eff1f0' } });
pcoaNames.forEach(function (n, i) {
    graphics.push({ type: 'line', silent: true, z: -1, shape: { x1: 774, y1: 47.7 + i * 23.33, x2: 793.5, y2: 47.7 + i * 23.33 }, style: { stroke: pcoaColors[i], lineWidth: 1 } });
});

panelLetters.forEach(function (p) {
    graphics.push(textEl(p[0], p[1], p[2], 'bold 17px ' + SANS, '#222', 'center'));
});

// D-G
clados.forEach(function (c, idx) {
    var gi = idx + 3;
    var cx = c.centre[0], cy = c.centre[1];
    grids.push({ left: c.crop[0], top: c.crop[1], width: c.crop[2], height: c.crop[3] });
    xAxes.push({ type: 'value', gridIndex: gi, show: false, min: 0, max: c.crop[2] * 3, splitLine: { show: false } });
    yAxes.push({ type: 'value', gridIndex: gi, show: false, inverse: true, min: 0, max: c.crop[3] * 3, splitLine: { show: false } });

    var wedges = c.wedges.slice();
    c.clades.forEach(function (cl) {
        cl[3].forEach(function (b) { wedges.push([b[0], b[1], cl[0], cl[1], cl[2], b[2]]); });
    });
    series.push({
        type: 'custom', name: 'sectors' + gi, xAxisIndex: gi, yAxisIndex: gi, silent: true, z: 1, encode: { x: 0, y: 1 },
        data: wedges.map(function () { return [cx, cy]; }),
        renderItem: function (params, api) {
            var w = wedges[params.dataIndex], pts = [], i, a;
            for (i = 0; i <= 16; i++) {
                a = rad(w[2] + (w[3] - w[2]) * i / 16);
                pts.push(api.coord([cx + w[1] * Math.cos(a), cy - w[1] * Math.sin(a)]));
            }
            for (i = 16; i >= 0; i--) {
                a = rad(w[2] + (w[3] - w[2]) * i / 16);
                pts.push(api.coord([cx + w[0] * Math.cos(a), cy - w[0] * Math.sin(a)]));
            }
            return { type: 'polygon', shape: { points: pts }, style: { fill: WEDGE_COLORS[w[4]], opacity: w[5] } };
        }
    });
    series.push({
        type: 'custom', name: 'rings' + gi, xAxisIndex: gi, yAxisIndex: gi, silent: true, z: 2, encode: { x: 0, y: 1 },
        data: c.arcs.map(function () { return [cx, cy]; }),
        renderItem: function (params, api) {
            var r = c.arcs[params.dataIndex], pts = [];
            for (var i = 0; i <= 60; i++) {
                var a = rad(r[1] + (r[2] - r[1]) * i / 60);
                pts.push(api.coord([cx + r[0] * Math.cos(a), cy - r[0] * Math.sin(a)]));
            }
            return { type: 'polyline', shape: { points: pts }, style: { fill: 'none', stroke: '#111', lineWidth: 1.7 } };
        }
    });

    var edges = [], nodes = { o: [[cx, cy, 2]], g: [], r: [] };
    c.chains.forEach(function (ch) {
        for (var i = 1; i < ch.length; i++) {
            nodes[ch[i][3]].push([ch[i][0], ch[i][1], ch[i][2]]);
            if (i > 1) edges.push([ch[i - 1][0], ch[i - 1][1], ch[i][0], ch[i][1], ch[0]]);
        }
    });
    var edgeStyle = { o: ['#666', 0.9], k: ['#111', 1.6], g: ['#0c4f2a', 2.2], r: ['#8d0f14', 2.2] };
    series.push({
        type: 'custom', name: 'edges' + gi, xAxisIndex: gi, yAxisIndex: gi, silent: true, z: 3, encode: { x: 0, y: 1 },
        data: edges.map(function (e) { return [e[0], e[1]]; }),
        renderItem: function (params, api) {
            var e = edges[params.dataIndex], p = api.coord([e[0], e[1]]), q = api.coord([e[2], e[3]]), st = edgeStyle[e[4]];
            return { type: 'line', shape: { x1: p[0], y1: p[1], x2: q[0], y2: q[1] }, style: { stroke: st[0], lineWidth: st[1] } };
        }
    });
    ['o', 'g', 'r'].forEach(function (k) {
        series.push({
            type: 'scatter', name: 'nodes' + gi + k, xAxisIndex: gi, yAxisIndex: gi, silent: true, z: 4, data: nodes[k],
            symbolSize: function (v) { return v[2] * 2.2 / 3; },
            itemStyle: { color: LEFSE_COLORS[k], opacity: 1, borderColor: k === 'o' ? '#9c9c6a' : '#222', borderWidth: k === 'o' ? 0.4 : 0.7 }
        });
    });

    // class swatches, key list, sector letters
    var ox = c.crop[0], oy = c.crop[1];
    ['Antiviral', c.second].forEach(function (n, i) {
        var yy = oy + (c.swY + i * c.swStep) / 3;
        graphics.push({ type: 'rect', silent: true, z: 20, shape: { x: ox + c.swX / 3, y: yy - 2.8, width: 15, height: 5.6 }, style: { fill: i === 0 ? LEFSE_COLORS.r : LEFSE_COLORS.g, stroke: '#555', lineWidth: 0.6 } });
        graphics.push(textEl(n, ox + (c.swX + 62) / 3, yy, '7px ' + DEJAVU, '#333', 'left'));
    });
    c.keys.forEach(function (k, i) {
        var yy = oy + (c.keyY + i * c.keyStep) / 3;
        graphics.push({ type: 'rect', silent: true, z: 20, shape: { x: ox + c.keyX / 3, y: yy - 1.9, width: 10.7, height: 3.8 }, style: { fill: LEFSE_COLORS[c.keyCls.charAt(i)], stroke: '#555', lineWidth: 0.5 } });
        graphics.push(textEl(k, ox + (c.keyX + 44) / 3, yy, '5.3px ' + DEJAVU, '#333', 'left'));
    });
    c.notes.forEach(function (n) {
        graphics.push(textEl(n[0], ox + n[1] / 3, oy + n[2] / 3, '4.6px ' + DEJAVU, '#333', 'center', n[3]));
    });
});

var option = {
    animation: false,
    backgroundColor: '#fff',
    grid: grids,
    xAxis: xAxes,
    yAxis: yAxes,
    legend: [
        {
            data: pcoaNames, orient: 'vertical', left: 777.7, top: 41.7, padding: 0, itemWidth: 12, itemHeight: 12, itemGap: 11.33,
            icon: 'circle', selectedMode: false, textStyle: { fontFamily: SANS, fontSize: 12.5, color: '#333', padding: [0, 0, 0, 8.3] }
        },
        {
            data: taxNames, orient: 'vertical', left: 444, top: 366.5, padding: 0, itemWidth: 19.5, itemHeight: 19.8, itemGap: 1,
            icon: 'rect', selectedMode: false, textStyle: { fontFamily: SERIF, fontSize: 12, color: '#222', padding: [0, 0, 0, 3.5] }
        }
    ],
    series: series,
    graphic: { elements: graphics }
};

var myChart = echarts.init(document.getElementById('main'));
myChart.setOption(option);
</script>
</body>
</html>
